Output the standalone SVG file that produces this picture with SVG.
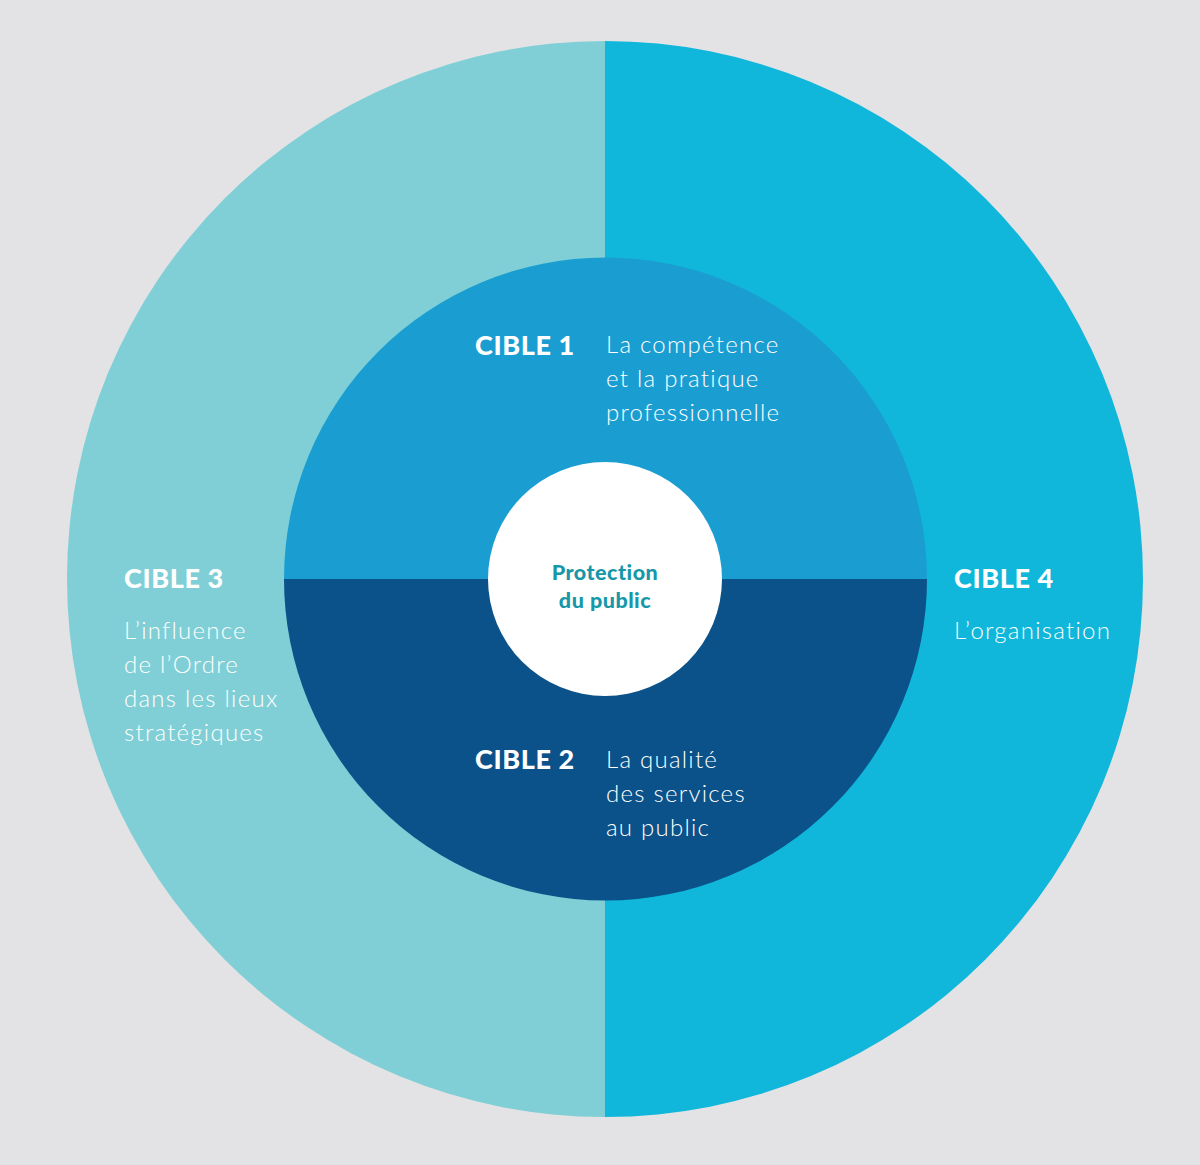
<svg xmlns="http://www.w3.org/2000/svg" width="1200" height="1165" viewBox="0 0 1200 1165">
<style>
.h{font-family:Lato,"Open Sans","Liberation Sans",sans-serif;font-weight:900;font-size:27px;fill:#fff;letter-spacing:0.6px}
.b{font-family:Lato,"Open Sans","Liberation Sans",sans-serif;font-weight:300;font-size:24px;fill:#fff;letter-spacing:1.25px}
.c{font-family:Lato,"Open Sans","Liberation Sans",sans-serif;font-weight:900;font-size:21.5px;fill:#1797a8;text-anchor:middle;letter-spacing:0.5px}
</style>
<rect width="1200" height="1165" fill="#e3e3e5"/>
<g id="outer">
<path d="M605 41 A538 538 0 0 0 605 1117 Z" fill="#80cfd6"/>
<path d="M605 41 A538 538 0 0 1 605 1117 Z" fill="#10b7da"/>
</g>
<g id="middle">
<path d="M284 579 A321.5 321.5 0 0 1 927 579 Z" fill="#1a9ed2"/>
<path d="M284 579 A321.5 321.5 0 0 0 927 579 Z" fill="#0a5289"/>
</g>
<g id="center">
<circle cx="605" cy="579" r="117" fill="#fff"/>
<text class="c" x="605" y="580">Protection</text>
<text class="c" x="605" y="608">du public</text>
</g>
<g id="cible1">
<text class="h" x="475" y="355">CIBLE 1</text>
<text class="b" x="606" y="353">La compétence</text>
<text class="b" x="606" y="387">et la pratique</text>
<text class="b" x="606" y="421">professionnelle</text>
</g>
<g id="cible2">
<text class="h" x="475" y="769">CIBLE 2</text>
<text class="b" x="606" y="768">La qualité</text>
<text class="b" x="606" y="802">des services</text>
<text class="b" x="606" y="836">au public</text>
</g>
<g id="cible3">
<text class="h" x="124" y="588">CIBLE 3</text>
<text class="b" x="124" y="639">L’influence</text>
<text class="b" x="124" y="673">de l’Ordre</text>
<text class="b" x="124" y="707">dans les lieux</text>
<text class="b" x="124" y="741">stratégiques</text>
</g>
<g id="cible4">
<text class="h" x="954" y="588">CIBLE 4</text>
<text class="b" x="954" y="639">L’organisation</text>
</g>
</svg>
